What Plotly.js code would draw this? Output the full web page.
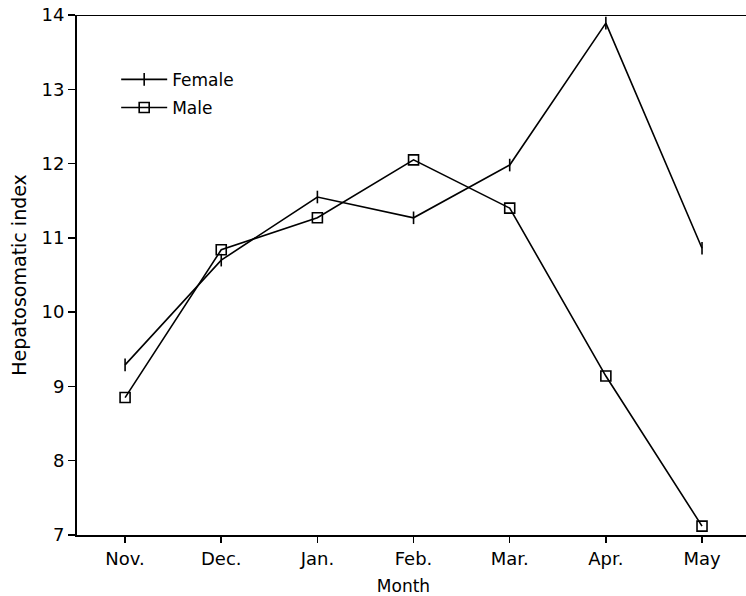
<!DOCTYPE html>
<html>
<head>
<meta charset="utf-8">
<script src="https://cdn.plot.ly/plotly-3.0.1.min.js"></script>
<style>html,body{margin:0;padding:0;background:#fff;overflow:hidden;}#chart{width:746px;height:596px;}</style>
</head>
<body>
<div id="chart"></div>
<script>
const months = ["Nov.", "Dec.", "Jan.", "Feb.", "Mar.", "Apr.", "May"];
const female = [9.29, 10.70, 11.55, 11.27, 11.98, 13.89, 10.86];
const male = [8.85, 10.84, 11.27, 12.05, 11.40, 9.14, 7.12];
const yTicks = [7, 8, 9, 10, 11, 12, 13, 14];

const font = {family: "DejaVu Sans, Arial, sans-serif", color: "#000"};

const traces = [
  {x: months, y: female, name: "Female", legendgroup: "f", type: "scatter", mode: "lines+markers",
   line: {color: "#000", width: 1.6},
   marker: {symbol: "line-ns", size: 9, line: {color: "#000", width: 1.6}, color: "#000"}},
  {x: months, y: male, name: "Male", legendgroup: "m", type: "scatter", mode: "lines+markers",
   line: {color: "#000", width: 1.6},
   marker: {symbol: "square-open", size: 10, color: "#000", line: {color: "#000", width: 1.6}}}
];

const layout = {
  width: 746, height: 596,
  margin: {l: 77, r: 16, t: 15, b: 61},
  paper_bgcolor: "#fff", plot_bgcolor: "#fff",
  font: Object.assign({size: 17}, font),
  showlegend: true,
  legend: {x: 0.06, y: 0.91, xanchor: "left", yanchor: "top",
           bgcolor: "rgba(0,0,0,0)", borderwidth: 0, itemwidth: 46,
           traceorder: "grouped", tracegroupgap: 3,
           font: Object.assign({size: 17}, font)},
  shapes: [
    {type: "line", xref: "paper", yref: "y", x0: -0.012, x1: 1.03, y0: 14, y1: 14,
     line: {color: "#000", width: 2}},
    {type: "line", xref: "paper", yref: "paper", x0: 0.99, x1: 1.03, y0: -0.0019, y1: -0.0019,
     line: {color: "#000", width: 2}}
  ],
  xaxis: {
    type: "category", categoryorder: "array", categoryarray: months,
    range: [-0.5, 6.291],
    showline: true, linecolor: "#000", linewidth: 2,
    ticks: "outside", ticklen: 6, tickwidth: 1.5, tickcolor: "#000",
    showgrid: false, zeroline: false,
    tickfont: Object.assign({size: 18}, font),
    title: {text: "Month", font: Object.assign({size: 17}, font), standoff: 14}
  },
  yaxis: {
    range: [7, 14], tickvals: yTicks,
    showline: true, linecolor: "#000", linewidth: 2,
    ticks: "outside", ticklen: 7, tickwidth: 1.5, tickcolor: "#000",
    showgrid: false, zeroline: false,
    tickfont: Object.assign({size: 18}, font),
    title: {text: "Hepatosomatic index", font: Object.assign({size: 19}, font), standoff: 10}
  }
};

Plotly.newPlot("chart", traces, layout, {displayModeBar: false, staticPlot: true});
</script>
</body>
</html>
